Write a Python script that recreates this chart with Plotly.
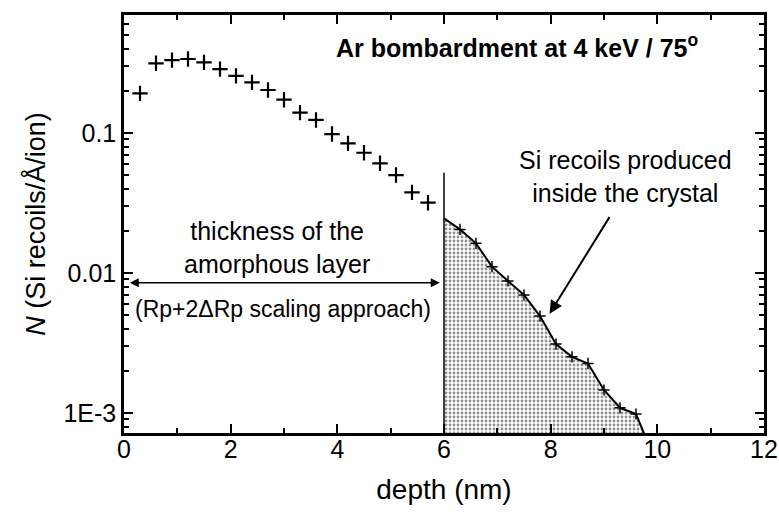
import plotly.graph_objects as go
import numpy as np

# amorphous-region recoils (crosses)
depth_amorph = [0.3, 0.6, 0.9, 1.2, 1.5, 1.8, 2.1, 2.4, 2.7, 3.0, 3.3, 3.6, 3.9, 4.2, 4.5, 4.8, 5.1, 5.4, 5.7]
N_amorph = [0.192, 0.315, 0.332, 0.338, 0.320, 0.286, 0.256, 0.230, 0.203, 0.173, 0.140, 0.124,
            0.0984, 0.0844, 0.0723, 0.0608, 0.0501, 0.0377, 0.0318]

# recoils produced inside the crystal (line with small crosses)
depth_cryst = [6.0, 6.3, 6.6, 6.9, 7.2, 7.5, 7.8, 8.1, 8.4, 8.7, 9.0, 9.3, 9.6]
N_cryst = [0.0246, 0.0205, 0.0163, 0.0111, 0.00877, 0.00697, 0.00493, 0.00311, 0.00252,
           0.00226, 0.00146, 0.00109, 0.000984]
depth_tail = [9.6, 9.9]
N_tail = [0.000984, 0.00052]

boundary_depth = 6.0
boundary_top = 0.052

y_min, y_max = 7.2e-4, 0.697
FONT = "Liberation Sans, Arial, sans-serif"

fig = go.Figure()

# stippled fill under crystal curve
fill_x = depth_cryst + depth_tail[1:]
fill_y = N_cryst + N_tail[1:]
fig.add_trace(go.Scatter(x=fill_x, y=[1e-5] * len(fill_x), mode="lines",
                         line=dict(width=0, color="rgba(0,0,0,0)"), showlegend=False,
                         hoverinfo="skip"))
fig.add_trace(go.Scatter(x=fill_x, y=fill_y, mode="lines", fill="tonexty",
                         fillcolor="rgba(255,255,255,0)",
                         fillpattern=dict(shape=".", fgcolor="#222", bgcolor="white",
                                          size=4, solidity=0.4),
                         line=dict(width=0, color="rgba(0,0,0,0)"), showlegend=False,
                         hoverinfo="skip"))

# crystal line
fig.add_trace(go.Scatter(x=depth_cryst + depth_tail[1:], y=N_cryst + N_tail[1:], mode="lines",
                         line=dict(color="black", width=2), showlegend=False))
fig.add_trace(go.Scatter(x=depth_cryst[1:], y=N_cryst[1:], mode="markers",
                         marker=dict(symbol="cross-thin", size=8,
                                     line=dict(color="black", width=1.5)),
                         showlegend=False))

# boundary line at 6 nm
fig.add_trace(go.Scatter(x=[boundary_depth, boundary_depth], y=[1e-5, boundary_top], mode="lines",
                         line=dict(color="black", width=1.5), showlegend=False))

# amorphous crosses
fig.add_trace(go.Scatter(x=depth_amorph, y=N_amorph, mode="markers",
                         marker=dict(symbol="cross-thin", size=11,
                                     line=dict(color="black", width=2.2)),
                         showlegend=False))

ann = []
ann.append(dict(x=7.37, y=-0.379, xref="x", yref="y", showarrow=False,
                text="<b>Ar bombardment at 4 keV / 75<sup>o</sup></b>",
                font=dict(family=FONT, size=25, color="black")))
ann.append(dict(x=9.41, y=-1.31, xref="x", yref="y", showarrow=False,
                text="Si recoils produced<br>inside the crystal", align="center",
                font=dict(family=FONT, size=25, color="black")))
ann.append(dict(x=2.87, y=-1.82, xref="x", yref="y", showarrow=False,
                text="thickness of the<br>amorphous layer", align="center",
                font=dict(family=FONT, size=25, color="black")))
ann.append(dict(x=2.99, y=-2.257, xref="x", yref="y", showarrow=False,
                text="(Rp+2ΔRp scaling approach)",
                font=dict(family=FONT, size=23, color="black")))
# double arrow
ann.append(dict(x=5.92, y=-2.07, ax=0.08, ay=-2.07, xref="x", yref="y", axref="x", ayref="y",
                text="", showarrow=True, arrowhead=2, arrowside="end+start",
                arrowsize=1.2, arrowwidth=1.5, arrowcolor="black"))
# pointer arrow
ann.append(dict(x=7.98, y=-2.29, ax=9.12, ay=-1.59, xref="x", yref="y", axref="x", ayref="y",
                text="", showarrow=True, arrowhead=2, arrowsize=1.3, arrowwidth=2,
                arrowcolor="black"))

minor_vals = [m * 10 ** e for e in (-4, -3, -2, -1) for m in range(2, 10)]

fig.update_layout(
    width=779, height=515,
    margin=dict(l=124, r=15, t=15, b=82, autoexpand=False),
    paper_bgcolor="white", plot_bgcolor="white",
    font=dict(family=FONT, size=24, color="black"),
    annotations=ann,
    xaxis=dict(range=[0, 12], tickvals=[0, 2, 4, 6, 8, 10, 12],
               ticks="inside", ticklen=9, tickwidth=2, tickcolor="black",
               showline=True, linewidth=2.5, linecolor="black", mirror="ticks",
               showgrid=False, zeroline=False, ticklabeloverflow="allow",
               ticklabelstandoff=-8, automargin=False,
               minor=dict(tickvals=[1, 3, 5, 7, 9, 11], ticks="inside", ticklen=5,
                          tickwidth=1.5, tickcolor="black"),
               tickfont=dict(size=25),
               title=dict(text="depth (nm)", font=dict(size=28), standoff=18)),
    yaxis=dict(type="log", range=[np.log10(y_min), np.log10(y_max)],
               tickvals=[0.001, 0.01, 0.1], ticktext=["1E-3", "0.01", "0.1"],
               ticks="inside", ticklen=9, tickwidth=2, tickcolor="black",
               showline=True, linewidth=2.5, linecolor="black", mirror="ticks",
               showgrid=False, zeroline=False, automargin=False,
               minor=dict(tickvals=minor_vals, ticks="inside", ticklen=5,
                          tickwidth=1.5, tickcolor="black"),
               tickfont=dict(size=25),
               title=dict(text="<i>N</i> (Si recoils/Å/ion)", font=dict(size=27), standoff=10)),
)

fig.write_html("out.html")
